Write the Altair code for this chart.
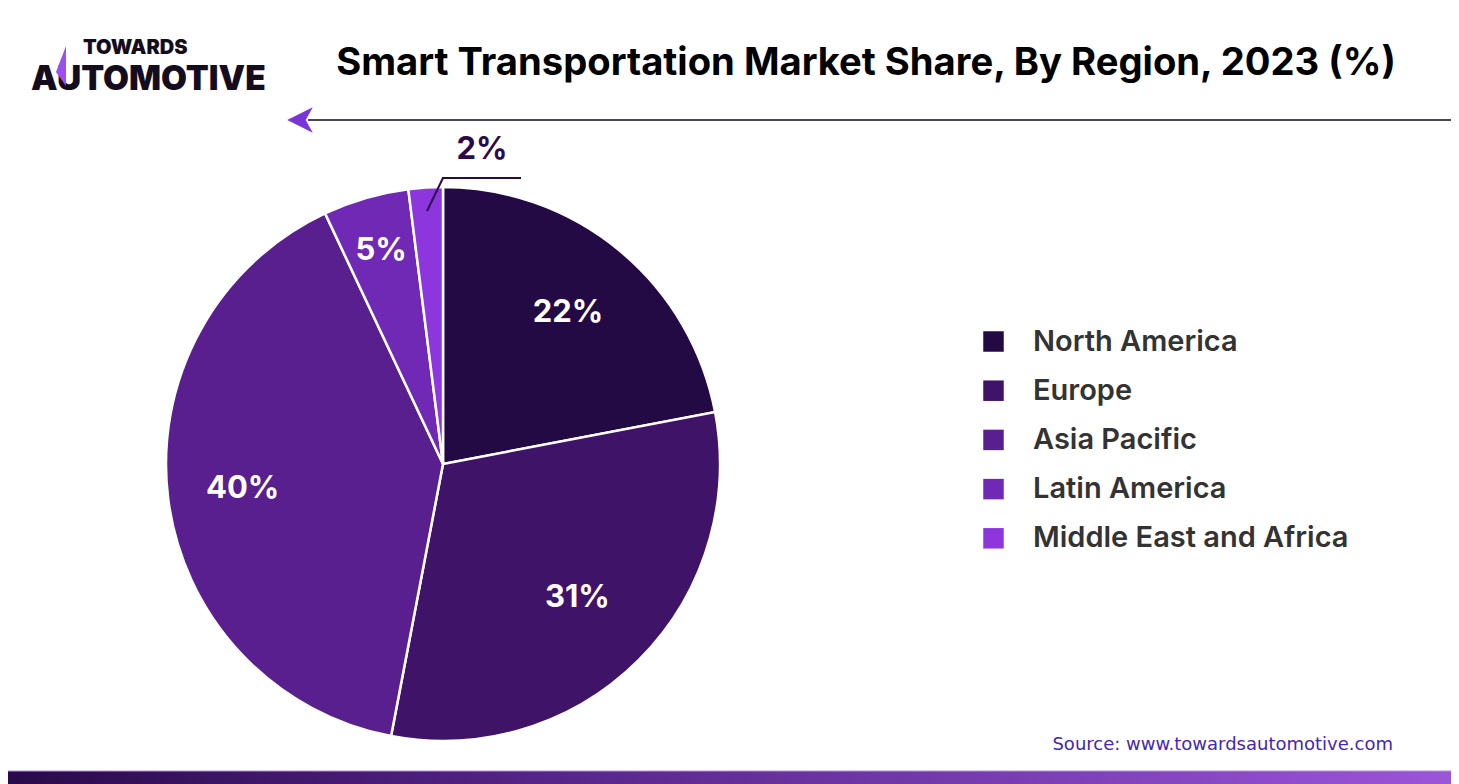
import altair as alt
import pandas as pd

regions = ["North America", "Europe", "Asia Pacific", "Latin America", "Middle East and Africa"]
shares = [22, 31, 40, 5, 2]
colors = ["#240a45", "#3e1368", "#5a1f8f", "#7029b5", "#8d36dd"]
title_text = "Smart Transportation Market Share, By Region, 2023 (%)"
source_text = "Source: www.towardsautomotive.com"

df = pd.DataFrame({"region": regions, "share": shares, "order": list(range(len(regions)))})
one = pd.DataFrame({"a": [0]})

W, H = 1443, 776
CX, CY, R = 435, 456, 277

pie = alt.Chart(df).mark_arc(outerRadius=R, stroke="white", strokeWidth=2.5).encode(
    theta=alt.Theta("share:Q", stack=True),
    color=alt.Color(
        "region:N",
        sort=regions,
        scale=alt.Scale(domain=regions, range=colors),
        legend=alt.Legend(
            title=None, orient="none", legendX=971, legendY=319,
            symbolType="square", symbolSize=420, symbolStrokeWidth=0,
            labelFontSize=29, labelFont="Inter", labelFontWeight=600,
            labelColor="#333333", labelOffset=25, rowPadding=19.2,
            labelLimit=600,
        ),
    ),
    order=alt.Order("order:Q"),
    x=alt.value(CX),
    y=alt.value(CY),
)

lbl_in = alt.Chart(df).transform_window(
    cum="sum(share)", sort=[alt.SortField("order")]
).transform_calculate(
    mid="datum.cum - datum.share / 2",
    label="datum.share + '%'",
    r="datum.share == 5 ? 222 : (datum.share == 31 ? 190 : (datum.share == 22 ? 196 : 202))",
).transform_filter("datum.share >= 5").mark_text(
    font="Inter", fontWeight="bold", fontSize=31, color="white"
).encode(
    theta=alt.Theta("mid:Q", stack=False, scale=alt.Scale(domain=[0, 100])),
    radius=alt.Radius("r:Q", scale=None),
    text=alt.Text("label:N"),
    x=alt.value(CX), y=alt.value(CY),
)

lbl_out = alt.Chart(df).transform_filter("datum.share == 2").transform_calculate(
    label="datum.share + '%'"
).mark_text(font="Inter", fontWeight="bold", fontSize=31, color="#2a0a4a").encode(
    text="label:N", x=alt.value(474), y=alt.value(142)
)

lead1 = alt.Chart(one).mark_rule(color="#2a0a4a", strokeWidth=2).encode(
    x=alt.value(419), y=alt.value(203), x2=alt.value(435), y2=alt.value(170)
)
lead2 = alt.Chart(one).mark_rule(color="#2a0a4a", strokeWidth=2).encode(
    x=alt.value(434), y=alt.value(170), x2=alt.value(513), y2=alt.value(170)
)

title = alt.Chart(one).mark_text(
    text=title_text, font="Inter", fontWeight="bold", fontSize=38.2, color="#000000"
).encode(x=alt.value(858), y=alt.value(56))

hline = alt.Chart(one).mark_rule(color="#4a4550", strokeWidth=2).encode(
    x=alt.value(300), x2=alt.value(W), y=alt.value(112)
)
arrow = alt.Chart(one).mark_point(
    shape="M1,-1 L-1,0 L1,1 L0.45,0 Z", filled=True, opacity=1,
    color="#7a35d8", size=650, strokeWidth=0
).encode(x=alt.value(292), y=alt.value(112))

logo_top = alt.Chart(one).mark_text(
    text="TOWARDS", font="Inter", fontWeight=900, fontSize=20, color="#150d1e", align="left"
).encode(x=alt.value(75), y=alt.value(40))
logo_bot = alt.Chart(one).mark_text(
    text="AUTOMOTIVE", font="Inter", fontWeight=900, fontSize=33.5, color="#150d1e", align="left"
).encode(x=alt.value(23), y=alt.value(72))
logo_tri = alt.Chart(one).mark_point(
    shape="M0.25,-1 L-0.25,0.3 L0.25,1 Z", filled=True, opacity=1,
    color="#9a4ff0", size=1600, strokeWidth=0
).encode(x=alt.value(53), y=alt.value(58))

source = alt.Chart(one).mark_text(
    text=source_text, font="DejaVu Sans", fontSize=18, color="#4527b5", align="right"
).encode(x=alt.value(1385), y=alt.value(737))

bar = alt.Chart(one).mark_rect(
    color=alt.LinearGradient(
        gradient="linear",
        stops=[
            alt.GradientStop(color="#2a0a4a", offset=0),
            alt.GradientStop(color="#4e1f7e", offset=0.3),
            alt.GradientStop(color="#9b55d9", offset=1),
        ],
        x1=0, x2=1, y1=0, y2=0,
    )
).encode(x=alt.value(0), x2=alt.value(W), y=alt.value(763), y2=alt.value(H))
bar_line = alt.Chart(one).mark_rule(color="#b58fe0", strokeWidth=1).encode(
    x=alt.value(0), x2=alt.value(W), y=alt.value(763)
)

chart = alt.layer(
    pie, lbl_in, lbl_out, lead1, lead2, title, hline, arrow,
    logo_top, logo_bot, logo_tri, source, bar, bar_line
).resolve_scale(theta="independent").properties(
    width=W, height=H, autosize=alt.AutoSizeParams(type="none"), padding=0, background="white"
).configure_view(stroke=None)

chart.save("out.html", embed_options={"renderer": "svg", "actions": False})
